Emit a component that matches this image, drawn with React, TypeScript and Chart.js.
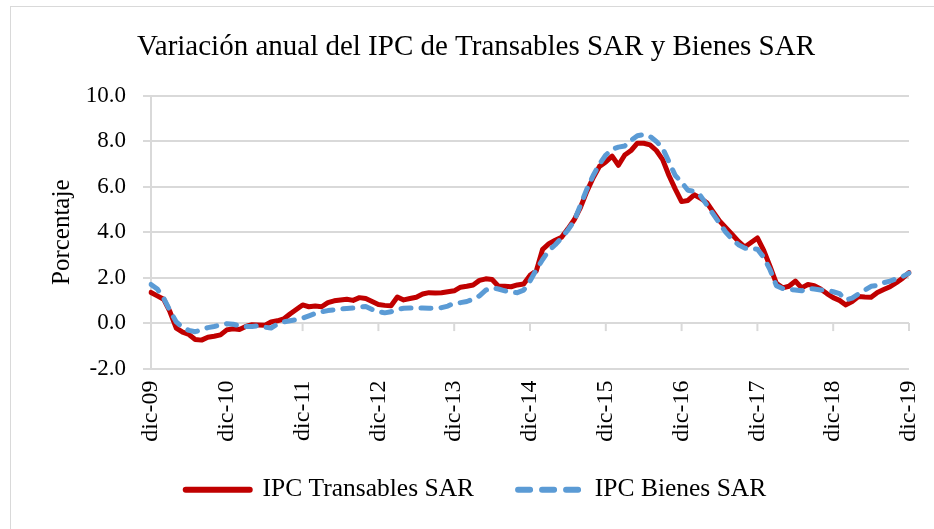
import React, { useEffect, useRef } from "react";
import { Chart, registerables } from "chart.js";

Chart.register(...registerables);

const MONTHS = ["ene", "feb", "mar", "abr", "may", "jun", "jul", "ago", "sep", "oct", "nov", "dic"];
const START_YEAR = 2009;
const N_POINTS = 121;

const labels: string[] = [];
for (let i = 0; i < N_POINTS; i++) {
  const m = (11 + i) % 12;
  const y = START_YEAR + Math.floor((11 + i) / 12);
  labels.push(`${MONTHS[m]}-${String(y % 100).padStart(2, "0")}`);
}

const transables: number[] = [
  1.35, 1.2, 1.05, 0.5, -0.22, -0.4, -0.5, -0.72, -0.75, -0.62, -0.58, -0.52,
  -0.3, -0.25, -0.28, -0.15, -0.07, -0.08, -0.1, 0.05, 0.1, 0.18, 0.4, 0.6,
  0.8, 0.72, 0.75, 0.72, 0.9, 0.98, 1.02, 1.05, 1.0, 1.12, 1.08, 0.95,
  0.82, 0.78, 0.76, 1.15, 1.02, 1.08, 1.14, 1.28, 1.34, 1.32, 1.34, 1.38,
  1.42, 1.58, 1.62, 1.68, 1.88, 1.95, 1.92, 1.62, 1.62, 1.6, 1.68, 1.72,
  2.1, 2.3, 3.25, 3.5, 3.65, 3.78, 4.15, 4.55, 5.1, 5.8, 6.4, 6.9,
  7.1, 7.35, 6.95, 7.4, 7.6, 7.92, 7.92, 7.85, 7.6, 7.2, 6.5, 5.9,
  5.35, 5.4, 5.65, 5.5, 5.3, 4.9, 4.5, 4.2, 3.9, 3.6, 3.35, 3.55,
  3.75, 3.2, 2.5, 1.75, 1.55, 1.62, 1.85, 1.55, 1.7, 1.65, 1.5, 1.3,
  1.12, 1.0, 0.8, 0.95, 1.17, 1.15, 1.14, 1.35, 1.48, 1.6, 1.78, 1.98,
  2.22,
];

const bienes: number[] = [
  1.7, 1.5, 1.1, 0.55, 0.05, -0.2, -0.32, -0.38, -0.3, -0.2, -0.15, -0.08,
  -0.03, -0.05, -0.12, -0.15, -0.15, -0.12, -0.18, -0.22, -0.05, 0.05, 0.1, 0.15,
  0.22, 0.32, 0.42, 0.5, 0.55, 0.58, 0.62, 0.64, 0.66, 0.7, 0.73, 0.6,
  0.5, 0.45, 0.5, 0.6, 0.65, 0.66, 0.66, 0.66, 0.65, 0.66, 0.68, 0.75,
  0.88, 0.9, 0.95, 1.05, 1.2, 1.45, 1.56, 1.5, 1.42, 1.36, 1.34, 1.45,
  1.85, 2.35, 2.8, 3.2, 3.45, 3.75, 4.1, 4.5, 5.2, 5.9, 6.5, 7.0,
  7.4, 7.65, 7.75, 7.8, 8.05, 8.25, 8.3, 8.22, 8.0, 7.7, 7.1, 6.5,
  6.2, 5.85, 5.8, 5.6, 5.2, 4.8, 4.4, 4.0, 3.7, 3.45, 3.3, 3.3,
  3.25, 2.9, 2.35, 1.65, 1.52, 1.48, 1.46, 1.42, 1.52, 1.5, 1.46, 1.45,
  1.38, 1.3, 1.02, 1.1, 1.28, 1.45, 1.62, 1.65, 1.78, 1.85, 1.95, 2.05,
  2.2,
];

const SERIES_NAMES = ["IPC Transables SAR", "IPC Bienes SAR"];
const TITLE = "Variación anual del IPC de Transables SAR y Bienes SAR";
const Y_TITLE = "Porcentaje";

const FONT = "'Liberation Serif', 'Times New Roman', serif";
const GRID = "#d9d9d9";

const zeroTicks = {
  id: "zeroTicks",
  beforeDraw(chart: any) {
    // let the rotated x labels extend below their (compact) layout box without clipping
    chart.scales.x.bottom = chart.height;
  },
  beforeDatasetsDraw(chart: any) {
    const x = chart.scales.x;
    const y = chart.scales.y;
    const ctx = chart.ctx;
    const y0 = y.getPixelForValue(0);
    ctx.save();
    ctx.strokeStyle = GRID;
    ctx.lineWidth = 2;
    labels.forEach((l, i) => {
      if (!l.startsWith("dic") || i === 0) return;
      const px = x.getPixelForValue(i);
      ctx.beginPath();
      ctx.moveTo(px, y0);
      ctx.lineTo(px, y0 + 8);
      ctx.stroke();
    });
    ctx.restore();
  },
};

export default function App() {
  const ref = useRef<HTMLCanvasElement | null>(null);
  useEffect(() => {
    if (!ref.current) return;
    const chart = new Chart(ref.current, {
      type: "line",
      data: {
        labels,
        datasets: [
          {
            label: SERIES_NAMES[0],
            data: transables,
            borderColor: "#C00000",
            backgroundColor: "#C00000",
            borderWidth: 5,
            pointRadius: 0,
            tension: 0,
            borderJoinStyle: "round",
            borderCapStyle: "round",
            order: 1,
          },
          {
            label: SERIES_NAMES[1],
            data: bienes,
            borderColor: "#5B9BD5",
            backgroundColor: "#5B9BD5",
            borderWidth: 5,
            borderDash: [10, 10],
            borderCapStyle: "round",
            borderJoinStyle: "round",
            pointRadius: 0,
            tension: 0,
            order: 0,
          },
        ],
      },
      options: {
        animation: false,
        responsive: false,
        maintainAspectRatio: false,
        layout: { padding: { left: 29, right: 11, top: 0, bottom: 16.5 } },
        scales: {
          x: {
            grid: { display: false, drawTicks: false },
            border: { display: false },
            afterFit: (s: any) => {
              s.height = 64.5;
              s.paddingLeft = 0;
              s.paddingRight = 25;
            },
            ticks: {
              autoSkip: false,
              minRotation: 90,
              maxRotation: 90,
              padding: 12,
              color: "#000",
              font: { family: FONT, size: 24 },
              callback: (_v: any, i: number) => (labels[i].startsWith("dic") ? labels[i] : ""),
            },
          },
          y: {
            min: -2,
            max: 10,
            afterFit: (s: any) => {
              s.width = 122;
            },
            grid: { color: GRID, lineWidth: 2, tickLength: 8, drawTicks: true },
            border: { display: true, color: GRID, width: 2 },
            ticks: {
              stepSize: 2,
              padding: 17,
              color: "#000",
              font: { family: FONT, size: 23 },
              callback: (v: any) => Number(v).toFixed(1),
            },
            title: {
              display: true,
              text: Y_TITLE,
              color: "#000",
              font: { family: FONT, size: 25 },
              padding: { top: 18, bottom: 4 },
            },
          },
        },
        plugins: {
          title: {
            display: true,
            text: TITLE,
            color: "#000",
            font: { family: FONT, size: 29, weight: "normal" },
            padding: { top: 29.6, bottom: 31.6 },
          },
          legend: {
            position: "bottom",
            labels: {
              color: "#000",
              font: { family: FONT, size: 25.5 },
              usePointStyle: true,
              pointStyle: "line",
              pointStyleWidth: 64,
              padding: 44,
              sort: (a: any, b: any) => a.datasetIndex - b.datasetIndex,
              generateLabels: (c: any) => {
                const items = (Chart.defaults.plugins.legend.labels as any).generateLabels(c);
                return items.map((it: any) => {
                  const ds = c.data.datasets[it.datasetIndex];
                  return {
                    ...it,
                    strokeStyle: ds.borderColor,
                    fillStyle: ds.borderColor,
                    lineWidth: 6,
                    lineCap: "round",
                    lineDash: ds.borderDash ? [12, 12] : [],
                    pointStyle: "line",
                  };
                });
              },
            },
          },
          tooltip: { enabled: false },
        },
      },
      plugins: [zeroTicks],
    });
    return () => chart.destroy();
  }, []);

  return (
    <div style={{ position: "absolute", left: 0, top: 0, width: 934, height: 529, background: "#fff", overflow: "hidden" }}>
      <div
        style={{
          position: "absolute",
          left: 10,
          top: 6,
          width: 940,
          height: 540,
          borderLeft: "1.5px solid #d9d9d9",
          borderTop: "1.5px solid #d9d9d9",
        }}
      />
      <canvas ref={ref} width={934} height={529} style={{ position: "absolute", left: 0, top: 0 }} />
    </div>
  );
}
